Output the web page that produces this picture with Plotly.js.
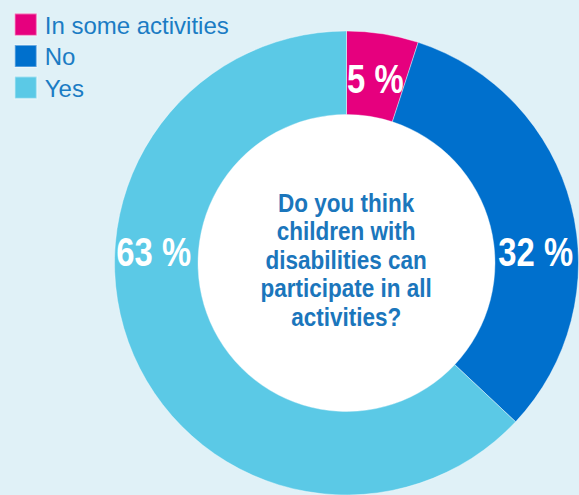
<!DOCTYPE html>
<html><head><meta charset="utf-8">
<script src="https://cdn.plot.ly/plotly-3.0.1.min.js"></script>
<style>html,body{margin:0;padding:0;background:#e0f1f7;}</style>
</head><body>
<div id="chart" style="width:579px;height:495px;"></div>
<script>
const categories = ["In some activities", "No", "Yes"];
const values = [5, 32, 63];
const colors = ["#e6007e", "#0070cd", "#5bc9e6"];
const centerQuestion = "Do you think<br>children with<br>disabilities can<br>participate in all<br>activities?";

const labelFont = {family: "Liberation Sans, Arial, sans-serif", size: 41, color: "#ffffff"};
const labelPos = [[0.5634, 0.8966], [0.9075, 0.5237], [0.0839, 0.5237]];

const data = [{
  type: "pie",
  labels: categories,
  values: values,
  marker: {colors: colors, line: {color: "rgba(255,255,255,0.4)", width: 1}},
  hole: 0.64,
  sort: false,
  direction: "clockwise",
  rotation: 0,
  textinfo: "none",
  hoverinfo: "label+percent"
}];

const annotations = values.map((v, i) => ({
  xref: "paper", yref: "paper", x: labelPos[i][0], y: labelPos[i][1],
  xanchor: "center", yanchor: "middle",
  text: "<b>" + v + " %</b>", showarrow: false, font: labelFont
}));
annotations.push({
  xref: "paper", yref: "paper", x: 0.499, y: 0.506,
  xanchor: "center", yanchor: "middle",
  text: "<b>" + centerQuestion + "</b>", showarrow: false,
  font: {family: "Liberation Sans, Arial, sans-serif", size: 25, color: "#1b76bc"}
});

const layout = {
  width: 579, height: 495,
  paper_bgcolor: "#e0f1f7", plot_bgcolor: "#e0f1f7",
  margin: {l: 114, r: 0, t: 31, b: 0},
  showlegend: true,
  legend: {x: -0.235, y: 1.0615, xanchor: "left", yanchor: "top",
    font: {family: "Liberation Sans, Arial, sans-serif", size: 24, color: "#1b7cc4"},
    bgcolor: "rgba(0,0,0,0)", tracegroupgap: 0},
  shapes: [{type: "circle", xref: "paper", yref: "paper", layer: "below",
    x0: 0.1806, x1: 0.8194, y0: 0.18, y1: 0.82,
    fillcolor: "#ffffff", line: {width: 0}}],
  annotations: annotations
};

function fixAll() {
  document.querySelectorAll("#chart .legend .legendpoints path").forEach(p => {
    if (p.dataset.done) return;
    p.dataset.done = "1";
    const base = p.getAttribute("transform") || "";
    p.setAttribute("transform", base + " translate(1,0) scale(1.83)");
  });
  const items = document.querySelectorAll("#chart .legend .traces");
  let y0 = null;
  items.forEach((g, i) => {
    const tr = g.getAttribute("transform") || "";
    const m = tr.match(/translate\(\s*([-\d.]+)[ ,]+([-\d.]+)\s*\)/);
    if (!m) return;
    if (y0 === null) y0 = parseFloat(m[2]);
    g.setAttribute("transform", "translate(" + m[1] + "," + (y0 + i * 31.5) + ")");
  });
  document.querySelectorAll("#chart .annotation-text").forEach(t => {
    if (t.dataset.done) return;
    t.dataset.done = "1";
    const x = parseFloat(t.getAttribute("x")) || 0;
    const isPct = t.textContent.indexOf("%") >= 0;
    const sx = isPct ? 0.8 : 0.9;
    let shiftY = 0;
    if (!isPct) {
      const lines = t.querySelectorAll("tspan.line");
      lines.forEach((l, i) => l.setAttribute("dy", (i * 1.14) + "em"));
      shiftY = (lines.length - 1) * (1.3 - 1.14) * 25 / 2;
    }
    t.setAttribute("transform", "translate(" + x + "," + shiftY + ") scale(" + sx + ",1) translate(" + (-x) + ",0)");
  });
}
Plotly.newPlot("chart", data, layout, {displayModeBar: false}).then(gd => {
  fixAll();
  gd.on("plotly_afterplot", fixAll);
});
</script>
</body></html>
